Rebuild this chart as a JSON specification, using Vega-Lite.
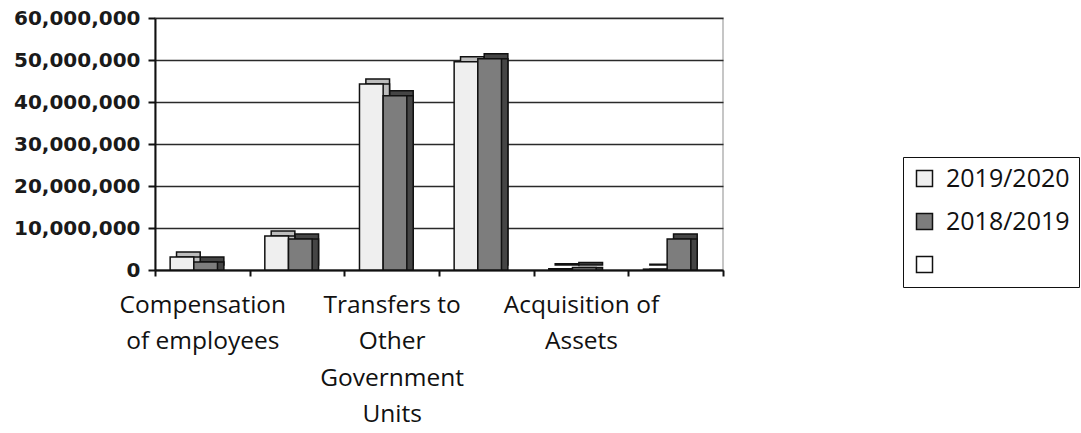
{
  "$schema": "https://vega.github.io/schema/vega-lite/v6.json",
  "autosize": {"type": "none"},
  "width": 568,
  "height": 252,
  "padding": {"left": 155, "top": 18, "right": 358, "bottom": 163},
  "background": "white",
  "data": {
    "values": [
      {"category": "Compensation of employees", "series": "2019/2020", "value": 3100000},
      {"category": "Compensation of employees", "series": "2018/2019", "value": 1900000},
      {"category": "Goods and services", "series": "2019/2020", "value": 8100000},
      {"category": "Goods and services", "series": "2018/2019", "value": 7400000},
      {"category": "Transfers to Other Government Units", "series": "2019/2020", "value": 44300000},
      {"category": "Transfers to Other Government Units", "series": "2018/2019", "value": 41500000},
      {"category": "Transfers to Households", "series": "2019/2020", "value": 49600000},
      {"category": "Transfers to Households", "series": "2018/2019", "value": 50300000},
      {"category": "Acquisition of Assets", "series": "2019/2020", "value": 300000},
      {"category": "Acquisition of Assets", "series": "2018/2019", "value": 600000},
      {"category": "Payments for financial assets", "series": "2019/2020", "value": 200000},
      {"category": "Payments for financial assets", "series": "2018/2019", "value": 7400000}
    ]
  },
  "config": {
    "view": {"stroke": "#b4b4b4", "strokeWidth": 1.5}
  },
  "resolve": {"scale": {"xOffset": "independent"}},
  "encoding": {
    "x": {
      "field": "category",
      "type": "nominal",
      "sort": null,
      "scale": {"paddingInner": 0, "paddingOuter": 0},
      "axis": {
        "title": null,
        "tickBand": "extent",
        "labelAngle": 0,
        "labelFont": "Open Sans",
        "labelFontSize": 24.5,
        "labelColor": "#111111",
        "labelLineHeight": 36.5,
        "labelPadding": 17,
        "labelLimit": 300,
        "domainColor": "#111111",
        "domainWidth": 2,
        "tickColor": "#111111",
        "tickWidth": 2,
        "tickSize": 6,
        "labelExpr": "datum.value == 'Compensation of employees' ? ['Compensation', 'of employees'] : datum.value == 'Transfers to Other Government Units' ? ['Transfers to', 'Other', 'Government', 'Units'] : datum.value == 'Acquisition of Assets' ? ['Acquisition of', 'Assets'] : ''"
      }
    },
    "y": {
      "field": "value",
      "type": "quantitative",
      "scale": {"domain": [0, 60000000]},
      "axis": {
        "title": null,
        "format": ",d",
        "values": [0, 10000000, 20000000, 30000000, 40000000, 50000000, 60000000],
        "labelFont": "DejaVu Sans",
        "labelFontSize": 20,
        "labelFontWeight": "bold",
        "labelColor": "#1a1a1a",
        "labelPadding": 8,
        "domainColor": "#111111",
        "domainWidth": 2,
        "tickColor": "#111111",
        "tickWidth": 2,
        "tickSize": 7,
        "grid": true,
        "gridColor": "#2a2a2a",
        "gridWidth": 1.5
      }
    }
  },
  "layer": [
    {
      "mark": {"type": "bar", "stroke": "#111111", "strokeWidth": 1.5, "yOffset": -5},
      "encoding": {
        "xOffset": {
          "field": "series",
          "type": "nominal",
          "sort": null,
          "scale": {"domain": ["2019/2020", "2018/2019"], "paddingInner": 0, "paddingOuter": 1.3, "align": 0.455}
        },
        "fill": {
          "condition": {"test": "datum.series == '2019/2020'", "value": "#bdbdbd"},
          "value": "#454545"
        }
      }
    },
    {
      "mark": {"type": "bar", "stroke": "#111111", "strokeWidth": 1.5},
      "encoding": {
        "xOffset": {
          "field": "series",
          "type": "nominal",
          "sort": null,
          "scale": {"domain": ["2019/2020", "2018/2019"], "paddingInner": 0, "paddingOuter": 1.3, "align": 0.455}
        },
        "fill": {
          "condition": {"test": "datum.series == '2019/2020'", "value": "#bdbdbd"},
          "value": "#454545"
        }
      }
    },
    {
      "mark": {"type": "bar", "stroke": "#111111", "strokeWidth": 1.5},
      "encoding": {
        "xOffset": {
          "field": "series",
          "type": "nominal",
          "sort": null,
          "scale": {"domain": ["2019/2020", "2018/2019"], "paddingInner": 0, "paddingOuter": 1.3, "align": 0.32}
        },
        "color": {
          "field": "series",
          "type": "nominal",
          "scale": {"domain": ["2019/2020", "2018/2019", " "], "range": ["#efefef", "#7d7d7d", "#ffffff"]},
          "legend": {
            "title": null,
            "orient": "none",
            "legendX": 748,
            "legendY": 139,
            "strokeColor": "#111111",
            "padding": 9,
            "symbolType": "square",
            "symbolSize": 256,
            "symbolStrokeColor": "#111111",
            "symbolStrokeWidth": 1.5,
            "labelFont": "Open Sans",
            "labelFontSize": 25,
            "labelColor": "#111111",
            "rowPadding": 17,
            "labelOffset": 9
          }
        }
      }
    }
  ]
}
